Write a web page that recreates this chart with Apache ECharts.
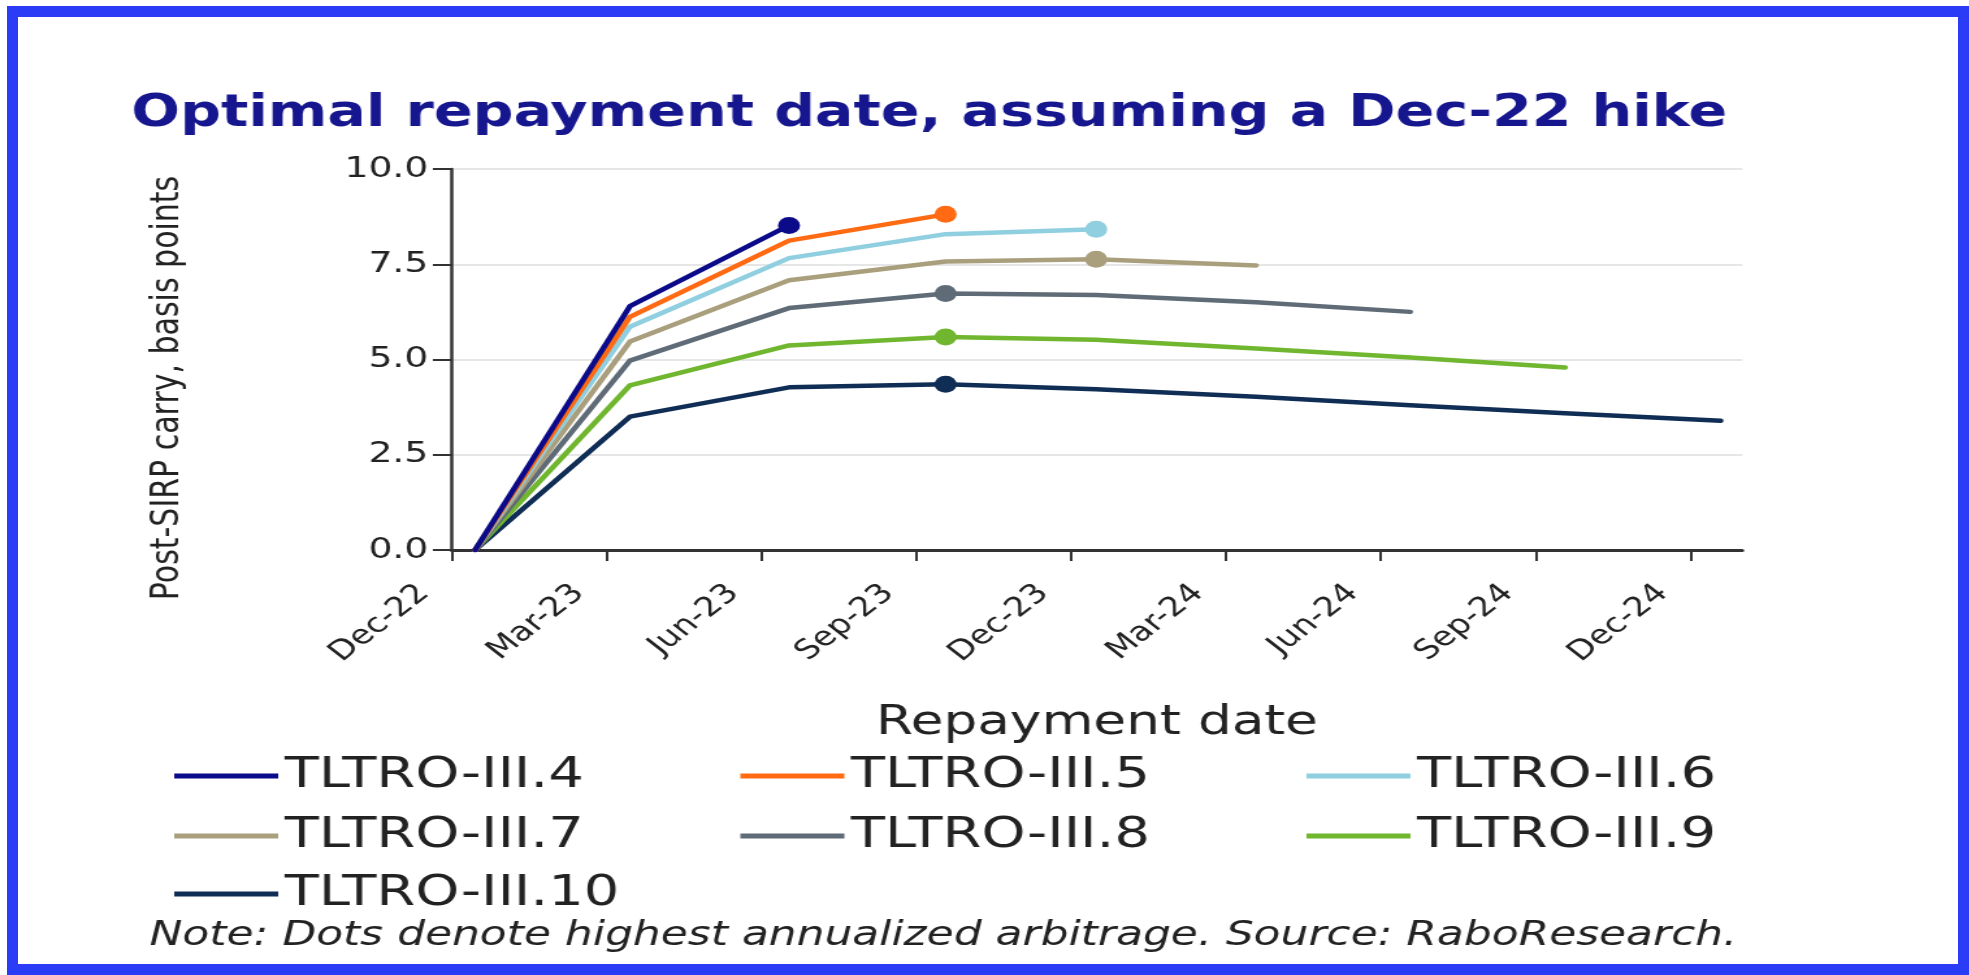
<!DOCTYPE html>
<html>
<head>
<meta charset="utf-8">
<script src="https://cdn.jsdelivr.net/npm/echarts@6/dist/echarts.min.js"></script>
<style>
  html, body { margin: 0; padding: 0; background: #fff; }
  #frame {
    position: absolute; left: 7px; top: 6px; right: 0; bottom: 0;
    border: 11px solid #2b3cf6; box-sizing: border-box; pointer-events: none;
  }
  /* source picture is stretched sideways, so the chart is drawn narrow and widened */
  #chart {
    position: absolute; left: 0; top: 0; width: 1514.6px; height: 975px;
    transform: scaleX(1.3); transform-origin: 0 0;
  }
</style>
</head>
<body>
<div id="chart"></div>
<div id="frame"></div>
<script>
(function() {
  var tickLabels = ["Dec-22", "Mar-23", "Jun-23", "Sep-23", "Dec-23", "Mar-24", "Jun-24", "Sep-24", "Dec-24"];
  // repayment dates the points sit on
  var repayDates = ["2022-12-15", "2023-03-15", "2023-06-17", "2023-09-18", "2023-12-16",
                    "2024-03-19", "2024-06-18", "2024-09-18", "2024-12-19"];

  var names = ["TLTRO-III.4", "TLTRO-III.5", "TLTRO-III.6", "TLTRO-III.7",
               "TLTRO-III.8", "TLTRO-III.9", "TLTRO-III.10"];
  var tltro4  = [0, 6.40, 8.52];
  var tltro5  = [0, 6.12, 8.12, 8.81];
  var tltro6  = [0, 5.86, 7.66, 8.29, 8.42];
  var tltro7  = [0, 5.47, 7.08, 7.57, 7.63, 7.47];
  var tltro8  = [0, 4.97, 6.35, 6.73, 6.69, 6.50, 6.25];
  var tltro9  = [0, 4.32, 5.37, 5.59, 5.52, 5.29, 5.05, 4.79];
  var tltro10 = [0, 3.50, 4.27, 4.35, 4.22, 4.02, 3.80, 3.59, 3.39];
  // index of the dot (highest annualized arbitrage)
  var dotIndex = [2, 3, 4, 4, 3, 3, 3];

  var colors = ["#0b0b8a", "#ff6a13", "#8fcfe0", "#aa9f7d", "#5f6b76", "#70b62e", "#0f2d55"];
  var allValues = [tltro4, tltro5, tltro6, tltro7, tltro8, tltro9, tltro10];

  // months since 1 Dec 2022
  function monthPos(s) {
    var p = s.split("-");
    var y = +p[0], m = +p[1], d = +p[2];
    var dim = new Date(y, m, 0).getDate();
    return (y - 2022) * 12 + (m - 12) + (d - 1) / dim;
  }

  var tickValues = tickLabels.map(function(t, i) { return i * 3; });

  var series = allValues.map(function(vals, k) {
    return {
      name: names[k],
      type: "line",
      showAllSymbol: true,
      symbol: "none",
      symbolSize: 17,
      lineStyle: { width: 4.5, color: colors[k], cap: "round", join: "round" },
      itemStyle: { color: colors[k] },
      emphasis: { disabled: true },
      z: 10 - k,
      data: vals.map(function(v, i) {
        return {
          value: [monthPos(repayDates[i]), v],
          symbol: i === dotIndex[k] ? "circle" : "none"
        };
      })
    };
  });

  var font = "'DejaVu Sans', 'Open Sans', sans-serif";
  function legendRow(items, top) {
    return {
      data: items,
      left: 129,
      top: top,
      orient: "horizontal",
      icon: "rect",
      itemWidth: 80,
      itemHeight: 5,
      itemGap: 107.5,
      itemTextGap: 17,
      selectedMode: false,
      textStyle: { fontFamily: font, fontSize: 43, color: "#222", width: 243, lineHeight: 50 }
    };
  }

  var myChart = echarts.init(document.getElementById("chart"));
  var option = {
    animation: false,
    backgroundColor: "#fff",
    title: [
      {
        text: "Optimal repayment date, assuming a Dec-22 hike",
        left: 96,
        top: 88,
        textStyle: { fontFamily: font, fontSize: 44, fontWeight: "bold", color: "#16168f" }
      },
      {
        text: "Note: Dots denote highest annualized arbitrage. Source: RaboResearch.",
        left: 110,
        top: 914,
        textStyle: { fontFamily: font, fontSize: 33.8, fontWeight: "normal", fontStyle: "italic", color: "#222" }
      }
    ],
    legend: [
      legendRow(names.slice(0, 3), 746),
      legendRow(names.slice(3, 6), 806),
      legendRow(names.slice(6), 864)
    ],
    graphic: [{
      type: "text",
      x: 129,
      y: 388,
      rotation: Math.PI / 2,
      style: {
        text: "Post-SIRP carry, basis points",
        font: "30px " + font,
        fill: "#222",
        align: "center",
        verticalAlign: "middle"
      }
    }],
    grid: { left: 347.5, right: 174.8, top: 169, bottom: 425 },
    xAxis: {
      type: "value",
      min: 0,
      max: 25,
      name: "Repayment date",
      nameLocation: "middle",
      nameGap: 153,
      nameTextStyle: { fontFamily: font, fontSize: 41, color: "#222" },
      splitLine: { show: false },
      axisLine: { lineStyle: { color: "#333", width: 3 } },
      axisTick: { customValues: tickValues, length: 11, lineStyle: { color: "#333", width: 2 } },
      axisLabel: {
        customValues: tickValues,
        rotate: 45,
        margin: 18,
        padding: [0, 30, 0, 0],
        fontFamily: font,
        fontSize: 27,
        color: "#222",
        formatter: function(v) {
          return tickLabels[Math.round(v / 3)];
        }
      }
    },
    yAxis: {
      type: "value",
      min: 0,
      max: 10,
      interval: 2.5,
      axisLine: { show: true, lineStyle: { color: "#333", width: 2.5 } },
      axisTick: { show: true, length: 14.5, lineStyle: { color: "#333", width: 2 } },
      splitLine: { lineStyle: { color: "#e6e6e6", width: 2 } },
      axisLabel: {
        margin: 18,
        fontFamily: font,
        fontSize: 29,
        color: "#222",
        formatter: function(v) { return v.toFixed(1); }
      }
    },
    series: series
  };
  myChart.setOption(option);
})();
</script>
</body>
</html>
